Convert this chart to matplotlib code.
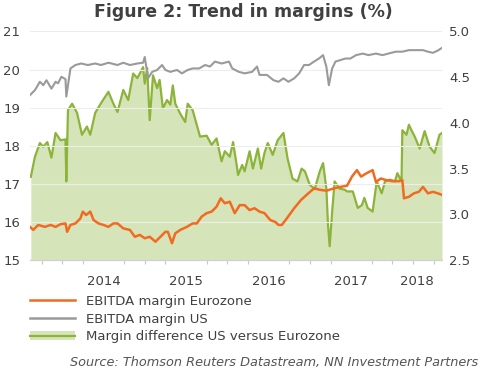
import numpy as np
import matplotlib
matplotlib.use("Agg")
import matplotlib.pyplot as plt
from matplotlib.lines import Line2D
from matplotlib.patches import Patch

# decimal years / values
us_t = [2013.61, 2013.67, 2013.73, 2013.77, 2013.81, 2013.87, 2013.92, 2013.95, 2013.99, 2014.04,
        2014.05, 2014.10, 2014.16, 2014.23, 2014.31, 2014.40, 2014.47, 2014.56, 2014.67, 2014.74,
        2014.82, 2014.91, 2014.98, 2015.00, 2015.04, 2015.09, 2015.15, 2015.21, 2015.25, 2015.31,
        2015.39, 2015.45, 2015.52, 2015.58, 2015.66, 2015.73, 2015.79, 2015.85, 2015.93, 2016.02,
        2016.06, 2016.14, 2016.21, 2016.30, 2016.36, 2016.39, 2016.48, 2016.56, 2016.62, 2016.68,
        2016.74, 2016.81, 2016.87, 2016.93, 2016.99, 2017.05, 2017.11, 2017.16, 2017.20, 2017.23,
        2017.27, 2017.31, 2017.37, 2017.43, 2017.49, 2017.56, 2017.64, 2017.71, 2017.80, 2017.88,
        2017.95, 2018.04, 2018.12, 2018.20, 2018.28, 2018.37, 2018.43, 2018.49, 2018.55, 2018.60]
us_v = [19.33, 19.46, 19.68, 19.59, 19.72, 19.50, 19.68, 19.64, 19.81, 19.75,
        19.29, 20.03, 20.12, 20.16, 20.12, 20.16, 20.12, 20.18, 20.12, 20.18,
        20.12, 20.16, 20.18, 20.33, 19.77, 19.94, 19.99, 20.12, 19.99, 19.94,
        19.99, 19.90, 19.99, 20.03, 20.03, 20.12, 20.08, 20.21, 20.16, 20.21,
        20.03, 19.94, 19.90, 19.94, 20.08, 19.86, 19.86, 19.72, 19.68, 19.77,
        19.68, 19.77, 19.90, 20.12, 20.12, 20.21, 20.29, 20.38, 20.07, 19.59,
        20.03, 20.21, 20.25, 20.29, 20.29, 20.38, 20.42, 20.38, 20.42, 20.38,
        20.42, 20.47, 20.47, 20.51, 20.51, 20.51, 20.47, 20.44, 20.50, 20.57]

ez_t = [2013.61, 2013.65, 2013.71, 2013.79, 2013.86, 2013.92, 2013.98, 2014.04, 2014.06, 2014.10,
        2014.16, 2014.22, 2014.25, 2014.29, 2014.34, 2014.38, 2014.44, 2014.50, 2014.56, 2014.62,
        2014.67, 2014.74, 2014.82, 2014.88, 2014.94, 2015.00, 2015.06, 2015.13, 2015.19, 2015.25,
        2015.28, 2015.33, 2015.37, 2015.43, 2015.51, 2015.58, 2015.63, 2015.69, 2015.75, 2015.81,
        2015.87, 2015.92, 2015.97, 2016.03, 2016.09, 2016.15, 2016.21, 2016.27, 2016.33, 2016.39,
        2016.45, 2016.52, 2016.58, 2016.62, 2016.66, 2016.72, 2016.81, 2016.89, 2016.96, 2017.05,
        2017.13, 2017.20, 2017.29, 2017.37, 2017.45, 2017.51, 2017.57, 2017.62, 2017.68, 2017.76,
        2017.80, 2017.86, 2017.92, 2018.00, 2018.08, 2018.12, 2018.14, 2018.20, 2018.26, 2018.32,
        2018.37, 2018.43, 2018.49, 2018.55, 2018.60]
ez_v = [15.87, 15.79, 15.92, 15.87, 15.92, 15.87, 15.94, 15.96, 15.74, 15.92,
        15.96, 16.09, 16.27, 16.18, 16.27, 16.05, 15.96, 15.92, 15.87, 15.96,
        15.96, 15.83, 15.79, 15.61, 15.66, 15.57, 15.61, 15.48, 15.61, 15.74,
        15.74, 15.44, 15.70, 15.79, 15.87, 15.96, 15.96, 16.14, 16.23, 16.27,
        16.40, 16.62, 16.49, 16.53, 16.23, 16.44, 16.44, 16.31, 16.36, 16.27,
        16.23, 16.05, 16.00, 15.92, 15.92, 16.09, 16.36, 16.57, 16.71, 16.88,
        16.84, 16.82, 16.88, 16.92, 16.95, 17.19, 17.36, 17.19, 17.27, 17.36,
        17.05, 17.14, 17.10, 17.07, 17.07, 17.10, 16.62, 16.66, 16.75, 16.79,
        16.92, 16.75, 16.79, 16.75, 16.71]

diff_t = [2013.62, 2013.67, 2013.73, 2013.77, 2013.82, 2013.87, 2013.92, 2013.98, 2014.04, 2014.05,
          2014.07, 2014.12, 2014.18, 2014.24, 2014.30, 2014.34, 2014.40, 2014.48, 2014.56, 2014.62,
          2014.67, 2014.74, 2014.80, 2014.86, 2014.91, 2014.94, 2014.98, 2015.00, 2015.03, 2015.06,
          2015.10, 2015.15, 2015.18, 2015.22, 2015.27, 2015.31, 2015.34, 2015.37, 2015.43, 2015.49,
          2015.52, 2015.58, 2015.67, 2015.75, 2015.81, 2015.87, 2015.93, 2015.97, 2016.03, 2016.07,
          2016.12, 2016.13, 2016.18, 2016.21, 2016.27, 2016.31, 2016.37, 2016.41, 2016.45, 2016.49,
          2016.55, 2016.61, 2016.68, 2016.73, 2016.79, 2016.85, 2016.90, 2016.94, 2017.00, 2017.06,
          2017.12, 2017.16, 2017.20, 2017.22, 2017.24, 2017.27, 2017.30, 2017.36, 2017.42, 2017.45,
          2017.52, 2017.58, 2017.63, 2017.66, 2017.70, 2017.76, 2017.81, 2017.87, 2017.91, 2017.97,
          2018.03, 2018.06, 2018.11, 2018.12, 2018.17, 2018.20, 2018.23, 2018.27, 2018.33, 2018.39,
          2018.45, 2018.51, 2018.57, 2018.60]
diff_v = [3.41, 3.63, 3.78, 3.74, 3.79, 3.62, 3.89, 3.81, 3.82, 3.36,
          4.14, 4.21, 4.11, 3.87, 3.96, 3.87, 4.11, 4.23, 4.34, 4.21,
          4.12, 4.36, 4.25, 4.54, 4.49, 4.54, 4.61, 4.43, 4.60, 4.03,
          4.52, 4.38, 4.47, 4.16, 4.25, 4.20, 4.41, 4.21, 4.10, 4.01,
          4.21, 4.14, 3.85, 3.86, 3.76, 3.83, 3.58, 3.69, 3.63, 3.79,
          3.50, 3.43, 3.54, 3.47, 3.69, 3.50, 3.72, 3.50, 3.67, 3.78,
          3.65, 3.81, 3.89, 3.61, 3.39, 3.36, 3.50, 3.47, 3.32, 3.28,
          3.47, 3.56, 3.28, 2.88, 2.65, 3.03, 3.36, 3.28, 3.27, 3.25,
          3.25, 3.07, 3.10, 3.18, 3.07, 3.03, 3.36, 3.23, 3.36, 3.38,
          3.36, 3.45, 3.36, 3.92, 3.87, 3.98, 3.92, 3.85, 3.72, 3.91,
          3.74, 3.67, 3.87, 3.89]

years = [2014, 2015, 2016, 2017, 2018]
x_min, x_max = 2013.61, 2018.60

c_orange = "#f26a21"
c_gray = "#9a9a9a"
c_green = "#8cb33a"
c_fill = "#d6e5b9"
c_text = "#404040"

fig = plt.figure(figsize=(4.86, 3.71), dpi=100)
ax = fig.add_axes([0.0617, 0.2992, 0.8477, 0.6159])
ax2 = ax.twinx()

# green difference on the right axis, kept behind the other two lines
ax2.fill_between(diff_t, diff_v, 2.5, color=c_fill, lw=0)
ax2.plot(diff_t, diff_v, color=c_green, lw=1.6)
ax.set_zorder(ax2.get_zorder() + 1)
ax.patch.set_visible(False)

ax.plot(us_t, us_v, color=c_gray, lw=1.5)
ax.plot(ez_t, ez_v, color=c_orange, lw=1.8)

ax.set_xlim(x_min, x_max)
ax.set_ylim(15, 21)
ax2.set_ylim(2.5, 5.0)
ax.set_yticks(range(15, 22))
ax2.set_yticks(np.arange(2.5, 5.01, 0.5))
ax2.set_yticklabels([f"{v:.1f}" for v in np.arange(2.5, 5.01, 0.5)])
ax.grid(axis="y", color="#ededed", lw=0.8)
ax.set_axisbelow(True)

# year labels centred in each visible year, quarter ticks along the bottom
lab_pos = [(max(y, x_min) + min(y + 1, x_max)) / 2 for y in years]
ax.set_xticks(lab_pos)
ax.set_xticklabels([str(y) for y in years])
ax.set_xticks(np.arange(2013.75, x_max, 0.25), minor=True)
ax.tick_params(axis="x", which="major", length=0, pad=11, labelsize=9.5, colors=c_text)
ax.tick_params(axis="x", which="minor", length=3, color="#c8c8c8", width=0.8)
ax.tick_params(axis="y", length=0, pad=7, labelsize=9.5, colors=c_text)
ax2.tick_params(axis="y", length=0, pad=5, labelsize=9.5, colors=c_text)

for a in (ax, ax2):
    for s in ("top", "left", "right"):
        a.spines[s].set_visible(False)
    a.spines["bottom"].set_color("#d0d0d0")
    a.spines["bottom"].set_linewidth(0.8)

fig.text(0.5, 0.967, "Figure 2: Trend in margins (%)", ha="center", va="center",
         fontsize=12.5, fontweight="bold", color=c_text)

handles = [Line2D([], [], color=c_orange, lw=1.8),
           Line2D([], [], color=c_gray, lw=1.8),
           (Patch(facecolor=c_fill, lw=0), Line2D([], [], color=c_green, lw=1.6))]
labels = ["EBITDA margin Eurozone", "EBITDA margin US", "Margin difference US versus Eurozone"]
fig.legend(handles, labels, loc="upper left", bbox_to_anchor=(0.062, 0.205), frameon=False,
           fontsize=9.5, handlelength=3.4, handletextpad=0.8, labelspacing=0.35,
           borderpad=0, borderaxespad=0, labelcolor=c_text)

fig.text(0.985, 0.022, "Source: Thomson Reuters Datastream, NN Investment Partners",
         ha="right", va="center", fontsize=9.3, style="italic", color="#555555")

fig.savefig("out.png", dpi=100)
